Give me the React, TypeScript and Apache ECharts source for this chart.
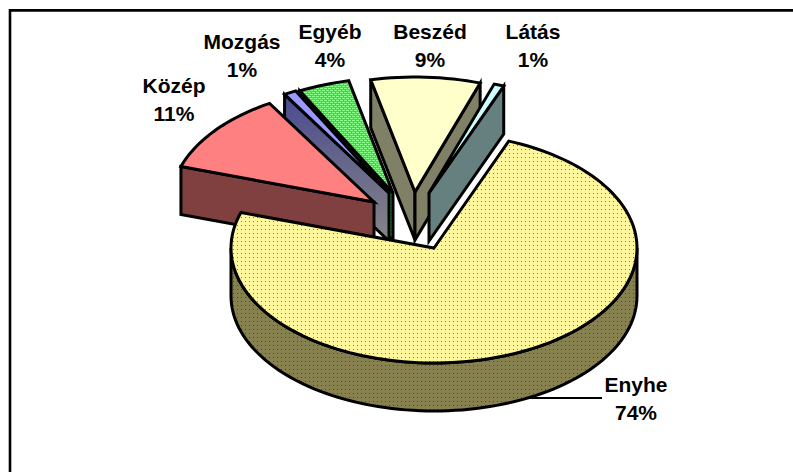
import React, { useEffect, useRef } from "react";
import * as echarts from "echarts";

const categories = ["Enyhe", "Közép", "Mozgás", "Egyéb", "Beszéd", "Látás"];
const percents = [74.0, 11.4, 1.0, 4.1, 8.7, 0.8];
const drawOrder = ["Beszéd", "Látás", "Egyéb", "Mozgás", "Közép", "Enyhe"];

// layout (pixels)
const CX = 434, CY = 248, RX = 203, RY = 115, DEPTH = 48, START_DEG = 21.6;
const explode: Record<string, [number, number]> = {
  Enyhe: [0, 0], Közép: [-60, -46], Mozgás: [-45, -55], Egyéb: [-41, -55], Beszéd: [-19, -56], Látás: [-5, -55],
};
const labelPos: Record<string, [number, number]> = {
  Enyhe: [636, 398], Közép: [174, 99], Mozgás: [242, 55], Egyéb: [330, 45], Beszéd: [430, 45], Látás: [533, 45],
};

function dotPattern(size: number, bg: string, dot: string, pts: number[][]) {
  const c = document.createElement("canvas");
  c.width = size; c.height = size;
  const g = c.getContext("2d")!;
  g.fillStyle = bg; g.fillRect(0, 0, size, size);
  g.fillStyle = dot;
  pts.forEach(([x, y]) => g.fillRect(x, y, 1, 1));
  return { type: "pattern", image: c, repeat: "repeat", imageWidth: size, imageHeight: size };
}

function hatchPattern() {
  const c = document.createElement("canvas");
  c.width = 4; c.height = 4;
  const g = c.getContext("2d")!;
  g.fillStyle = "#22ee22"; g.fillRect(0, 0, 4, 4);
  g.fillStyle = "#88ff88"; g.fillRect(0, 0, 3, 1); g.fillRect(2, 2, 3, 1); g.fillRect(0, 2, 1, 1);
  return { type: "pattern", image: c, repeat: "repeat", imageWidth: 4, imageHeight: 4 };
}

function hatchDark() {
  const c = document.createElement("canvas");
  c.width = 4; c.height = 4;
  const g = c.getContext("2d")!;
  g.fillStyle = "#1f7a1f"; g.fillRect(0, 0, 4, 4);
  g.fillStyle = "#3f9f3f"; g.fillRect(0, 0, 3, 1); g.fillRect(2, 2, 3, 1);
  return { type: "pattern", image: c, repeat: "repeat", imageWidth: 4, imageHeight: 4 };
}

function slices() {
  const total = percents.reduce((a, b) => a + b, 0);
  let a = START_DEG;
  return categories.map((name, i) => {
    const sweep = (percents[i] / total) * 360;
    const s = { name, value: percents[i], a0: a, a1: a + sweep };
    a += sweep;
    return s;
  });
}

const rad = (d: number) => (d * Math.PI) / 180;

function arcPts(ox: number, oy: number, a0: number, a1: number, dz = 0) {
  const out: number[][] = [];
  const n = Math.max(2, Math.ceil((a1 - a0) / 2));
  for (let i = 0; i <= n; i++) {
    const t = rad(a0 + ((a1 - a0) * i) / n);
    out.push([ox + RX * Math.sin(t), oy - RY * Math.cos(t) + dz]);
  }
  return out;
}

export default function App() {
  const ref = useRef<HTMLDivElement>(null);
  useEffect(() => {
    document.body.style.margin = "0";
    const chart = echarts.init(ref.current!, undefined, { renderer: "svg" });

    const all = slices();
    const ordered = drawOrder.map((n) => all.find((s) => s.name === n)!);

    const dotsLight = dotPattern(4, "#FFF79C", "#7f7a5a", [[1, 1]]);
    const dotsDark = dotPattern(4, "#87814F", "#4a4a30", [[1, 1]]);
    const fills: Record<string, { top: any; wall: any }> = {
      Enyhe: { top: dotsLight, wall: dotsDark },
      Közép: { top: "#FF8080", wall: "#804040" },
      Mozgás: {
        top: "#9999FF",
        wall: {
          type: "linear", x: 0, y: 0, x2: 0, y2: 1,
          colorStops: [{ offset: 0, color: "#4a4a90" }, { offset: 1, color: "#868686" }],
        },
      },
      Egyéb: { top: hatchPattern(), wall: hatchDark() },
      Beszéd: { top: "#FFFFCC", wall: "#808066" },
      Látás: { top: "#CCFFFF", wall: "#668080" },
    };

    const stroke = { stroke: "#000", lineWidth: 3, lineJoin: "miter", miterLimit: 4 };

    const renderItem = (params: any) => {
      const s = ordered[params.dataIndex];
      const [ex, ey] = explode[s.name];
      const ox = CX + ex, oy = CY + ey;
      const f = fills[s.name];
      const children: any[] = [];
      const wall = (deg: number) => {
        const t = rad(deg);
        const px = ox + RX * Math.sin(t), py = oy - RY * Math.cos(t);
        children.push({
          type: "polygon",
          shape: { points: [[ox, oy], [px, py], [px, py + DEPTH], [ox, oy + DEPTH]] },
          style: { fill: f.wall, ...stroke },
        });
      };
      // radial walls that face the viewer
      const norm = (d: number) => ((d % 360) + 360) % 360;
      if (norm(s.a0) > 180) wall(s.a0);
      if (norm(s.a1) < 180) wall(s.a1);
      // outer rim, front half only
      const rimA = Math.max(s.a0, 90), rimB = Math.min(s.a1, 270);
      if (rimB > rimA) {
        const up = arcPts(ox, oy, rimA, rimB);
        const down = arcPts(ox, oy, rimA, rimB, DEPTH).reverse();
        children.push({
          type: "polygon",
          shape: { points: [...up, ...down] },
          style: { fill: f.wall, ...stroke },
        });
      }
      // top face
      children.push({
        type: "polygon",
        shape: { points: [[ox, oy], ...arcPts(ox, oy, s.a0, s.a1)] },
        style: { fill: f.top, ...stroke },
      });
      return { type: "group", children };
    };

    const textSeriesData = categories.map((name, i) => ({ name, value: percents[i] }));

    chart.setOption({
      animation: false,
      backgroundColor: "#fff",
      graphic: [
        { type: "line", shape: { x1: 10, y1: 10.4, x2: 793, y2: 10.4 }, style: { stroke: "#000", lineWidth: 2.6 } },
        { type: "line", shape: { x1: 10, y1: 9, x2: 10, y2: 472 }, style: { stroke: "#000", lineWidth: 2.6 } },
        { type: "line", shape: { x1: 520, y1: 398, x2: 602, y2: 398 }, style: { stroke: "#000", lineWidth: 2 } },
      ],
      series: [
        {
          type: "custom",
          coordinateSystem: "none",
          silent: true,
          renderItem,
          data: ordered.map((s) => ({ name: s.name, value: s.value })),
        },
        {
          type: "custom",
          coordinateSystem: "none",
          silent: true,
          z: 5,
          renderItem: (params: any) => {
            const d = textSeriesData[params.dataIndex];
            const [x, y] = labelPos[d.name];
            return {
              type: "text",
              x,
              y,
              style: {
                text: `${d.name}\n${Math.round(d.value)}%`,
                fill: "#000",
                font: 'bold 21px "Liberation Sans", Arial, sans-serif',
                lineHeight: 28,
                align: "center",
                verticalAlign: "middle",
              },
            };
          },
          data: textSeriesData,
        },
      ],
    });
    return () => chart.dispose();
  }, []);
  return <div ref={ref} style={{ position: "absolute", left: 0, top: 0, width: 793, height: 472 }} />;
}
